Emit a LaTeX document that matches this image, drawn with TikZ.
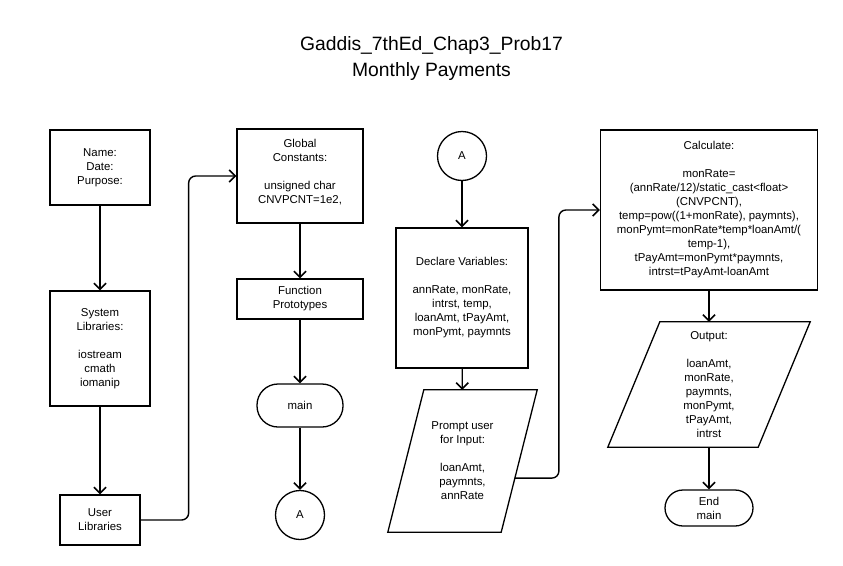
\documentclass[tikz,border=0pt]{standalone}
\usepackage{fontspec}
\setmainfont{Liberation Sans}
\usetikzlibrary{arrows.meta,calc}

\tikzset{
	box/.style={draw, line width=1.3pt, align=center, inner sep=2pt},
	term/.style={box, rounded corners=#1},
	conn/.style={draw, circle, line width=1.3pt, minimum size=49pt, inner sep=0pt},
	io/.style={align=center, inner sep=0pt},
	outline/.style={line width=1.3pt, line join=miter},
	flow/.style={line width=1.4pt, -{Straight Barb[length=6pt, width=12pt, line width=1.6pt]}},
}

\begin{document}
\begin{tikzpicture}[x=1pt, y=-1pt, font=\fontsize{11.4}{14}\selectfont]
	\useasboundingbox (0, 0) rectangle (843, 565);

	\node[font=\fontsize{19.3}{26}\selectfont, align=center] (title) at (431.5, 59) {Gaddis\_7thEd\_Chap3\_Prob17\\Monthly Payments};

	% left column
	\node[box, minimum width=100pt, minimum height=75pt] (name) at (100, 167.5) {Name:\\Date:\\Purpose:};
	\node[box, minimum width=100pt, minimum height=115pt] (syslib) at (100, 348.5) {System\\Libraries:\\[14pt]iostream\\cmath\\iomanip};
	\node[box, minimum width=80pt, minimum height=50pt] (userlib) at (100, 520) {User\\Libraries};

	% second column
	\node[box, minimum width=126pt, minimum height=94pt] (globals) at (300, 176) {Global\\Constants:\\[14pt]unsigned char\\CNVPCNT=1e2,\\[-4pt]\mbox{}};
	\node[box, minimum width=126pt, minimum height=40pt] (protos) at (300, 299) {Function\\Prototypes};
	\node[term=21pt, minimum width=86pt, minimum height=43pt] (main) at (300, 405.5) {main};
	\node[conn] (offA) at (300, 515) {A};

	% third column
	\node[conn] (onA) at (462, 156) {A};
	\node[box, minimum width=132pt, minimum height=140pt] (decl) at (462, 298) {Declare Variables:\\[14pt]annRate, monRate,\\intrst, temp,\\loanAmt, tPayAmt,\\monPymt, paymnts};
	\node[io, minimum width=113pt, minimum height=142pt] (prompt) at (462.5, 461) {Prompt user\\for Input:\\[14pt]loanAmt,\\paymnts,\\annRate};
	\draw[outline] ($(prompt.south west)+(-18, 0)$) -- ($(prompt.north west)+(18, 0)$) -- ($(prompt.north east)+(18, 0)$) -- ($(prompt.south east)+(-18, 0)$) -- cycle;

	% right column
	\node[box, minimum width=217pt, minimum height=160pt] (calc) at (709, 210) {Calculate:\\[14pt]monRate=\\(annRate/12)/static\_cast<float>\\(CNVPCNT),\\temp=pow((1+monRate), paymnts),\\monPymt=monRate*temp*loanAmt/(\\temp-1),\\tPayAmt=monPymt*paymnts,\\intrst=tPayAmt-loanAmt};
	\node[io, minimum width=150pt, minimum height=125pt] (output) at (709, 384.5) {Output:\\[14pt]loanAmt,\\monRate,\\paymnts,\\monPymt,\\tPayAmt,\\intrst};
	\draw[outline] ($(output.south west)+(-26, 0)$) -- ($(output.north west)+(26, 0)$) -- ($(output.north east)+(26, 0)$) -- ($(output.south east)+(-26, 0)$) -- cycle;
	\node[term=18pt, minimum width=88pt, minimum height=36pt] (endmain) at (709, 508) {End\\main};

	\coordinate (promptout) at ($($(prompt.north east)+(18, 0)$)!0.62!($(prompt.south east)+(-18, 0)$)$);

	\draw[flow] (name) -- (syslib);
	\draw[flow] (syslib) -- (userlib);
	\draw[flow, rounded corners=7pt] (userlib.east) -- ++(48, 0) |- (globals.west);
	\draw[flow] (globals) -- (protos);
	\draw[flow] (protos) -- (main);
	\draw[flow] (main) -- (offA);

	\draw[flow] (onA) -- (decl);
	\draw[flow] (decl) -- (prompt);
	\draw[flow, rounded corners=7pt] (promptout) -- ++(44, 0) |- (calc.west);
	\draw[flow] (calc) -- (output);
	\draw[flow] (output) -- (endmain);
\end{tikzpicture}
\end{document}
